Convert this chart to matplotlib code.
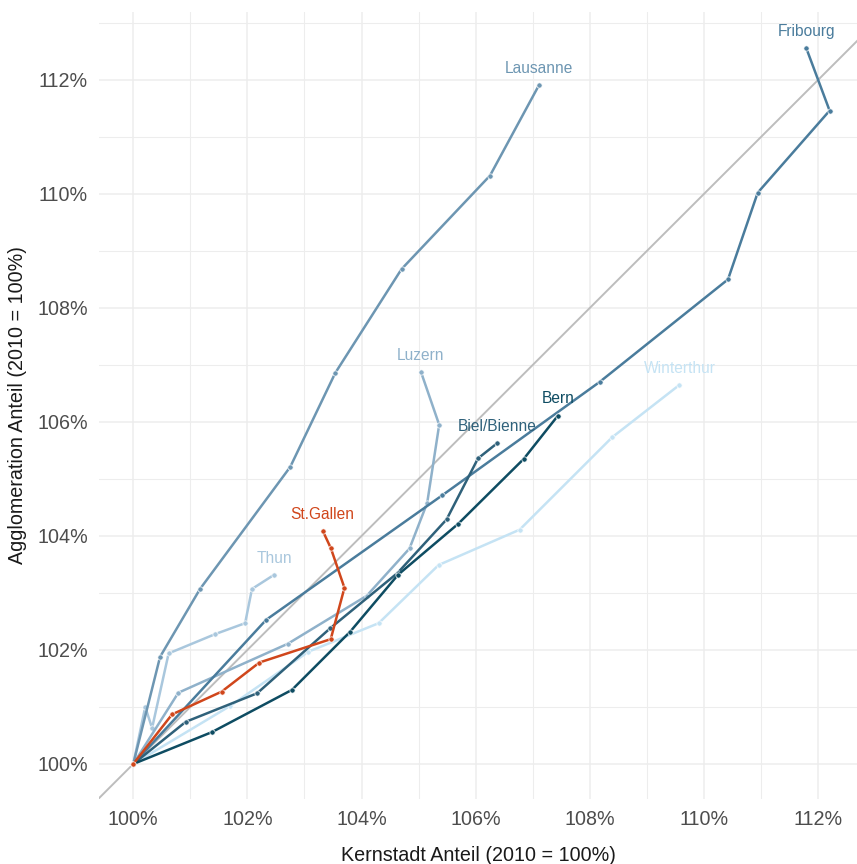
import matplotlib
matplotlib.use("Agg")
import matplotlib.pyplot as plt
from matplotlib.ticker import MultipleLocator, FuncFormatter

plt.rcParams['font.family'] = ['Liberation Sans', 'DejaVu Sans']

# Data: share relative to 2010 (=100%), one point per year
cities = ["Winterthur", "Thun", "Luzern", "Lausanne", "Fribourg", "Biel/Bienne", "Bern", "St.Gallen"]

kern = {
    "Lausanne":    [100.00, 100.47, 101.17, 102.75, 103.54, 104.70, 106.25, 107.11],
    "Fribourg":    [100.00, 102.33, 105.41, 108.17, 110.42, 110.94, 112.20, 111.79],
    "Luzern":      [100.00, 100.79, 102.71, 104.09, 104.84, 105.15, 105.36, 105.04],
    "Thun":        [100.00, 100.21, 100.33, 100.62, 101.44, 101.96, 102.08, 102.47],
    "St.Gallen":   [100.00, 100.68, 101.55, 102.21, 103.46, 103.70, 103.46, 103.32],
    "Bern":        [100.00, 101.38, 102.78, 103.80, 104.64, 105.69, 106.84, 107.44],
    "Biel/Bienne": [100.00, 100.92, 102.17, 103.45, 104.63, 105.49, 106.04, 106.38],
    "Winterthur":  [100.00, 101.70, 103.07, 104.30, 105.35, 106.77, 108.39, 109.57],
}
agglo = {
    "Lausanne":    [100.00, 101.88, 103.07, 105.21, 106.86, 108.68, 110.32, 111.91],
    "Fribourg":    [100.00, 102.53, 104.71, 106.70, 108.50, 110.02, 111.46, 112.56],
    "Luzern":      [100.00, 101.25, 102.11, 102.95, 103.78, 104.58, 105.95, 106.88],
    "Thun":        [100.00, 101.00, 100.63, 101.94, 102.28, 102.47, 103.07, 103.32],
    "St.Gallen":   [100.00, 100.87, 101.27, 101.78, 102.19, 103.09, 103.79, 104.09],
    "Bern":        [100.00, 100.56, 101.30, 102.32, 103.32, 104.21, 105.35, 106.11],
    "Biel/Bienne": [100.00, 100.74, 101.24, 102.38, 103.35, 104.29, 105.36, 105.63],
    "Winterthur":  [100.00, 101.02, 101.97, 102.47, 103.49, 104.11, 105.73, 106.65],
}
colors = {
    "Lausanne": "#6d96b2",
    "Fribourg": "#4a7c9c",
    "Luzern": "#8fb1ca",
    "Thun": "#a9c7dd",
    "St.Gallen": "#d0461b",
    "Bern": "#0e4c62",
    "Biel/Bienne": "#2f617a",
    "Winterthur": "#c5e3f4",
}

x_ticks = [100, 102, 104, 106, 108, 110, 112]
y_ticks = [100, 102, 104, 106, 108, 110, 112]

fig = plt.figure(figsize=(8.57, 8.64), dpi=100)
W, H = 857, 864
left, right, top, bottom = 99, 857, 12, 799
ax = fig.add_axes([left / W, 1 - bottom / H, (right - left) / W, (bottom - top) / H])

ax.set_xlim(99.40, 112.68)
ax.set_ylim(99.386, 113.19)

ax.xaxis.set_minor_locator(MultipleLocator(1))
ax.yaxis.set_minor_locator(MultipleLocator(1))
ax.set_xticks(x_ticks)
ax.set_yticks(y_ticks)
fmt = FuncFormatter(lambda v, p: f"{v:.0f}%")
ax.xaxis.set_major_formatter(fmt)
ax.yaxis.set_major_formatter(fmt)

ax.grid(which='major', color='#ededed', lw=1.1, zorder=0)
ax.grid(which='minor', color='#ededed', lw=0.8, zorder=0)
ax.set_axisbelow(True)
for s in ax.spines.values():
    s.set_visible(False)
ax.tick_params(which='both', length=0)
ax.tick_params(axis='x', labelsize=14.2, labelcolor='#4d4d4d', pad=8)
ax.tick_params(axis='y', labelsize=14.2, labelcolor='#4d4d4d', pad=8)

ax.axline((100, 100), slope=1, color='#bdbdbd', lw=1.4, zorder=1)

for c in cities:
    ax.plot(kern[c], agglo[c], color=colors[c], lw=1.8, marker='o', ms=3.8,
            mec='white', mew=0.5, zorder=3, solid_capstyle='round')
    ax.annotate(c, (kern[c][-1], agglo[c][-1]), xytext=(0, 12), textcoords='offset points',
                ha='center', va='center', color=colors[c], fontsize=11.2, zorder=4)

ax.set_xlabel("Kernstadt Anteil (2010 = 100%)", fontsize=14.2, color='#1a1a1a', labelpad=12)
ax.set_ylabel("Agglomeration Anteil (2010 = 100%)", fontsize=14.2, color='#1a1a1a', labelpad=7)

fig.savefig("out.png", dpi=100)
